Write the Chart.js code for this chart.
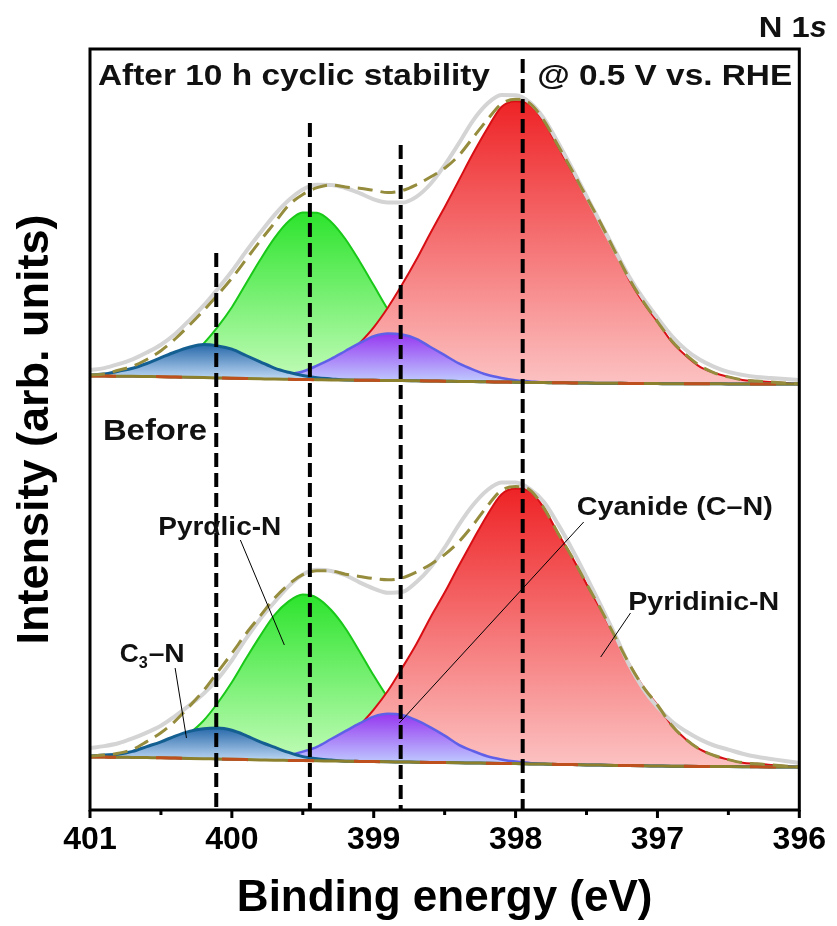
<!DOCTYPE html>
<html>
<head>
<meta charset="utf-8">
<script src="https://cdn.jsdelivr.net/npm/chart.js@4.4.1/dist/chart.umd.min.js"></script>
<style>
  html, body { margin: 0; padding: 0; background: #ffffff; }
  canvas { display: block; }
</style>
</head>
<body>
<canvas id="c" width="837" height="926"></canvas>
<script>
// ---------------- DATA ----------------
const energies = [401.0,400.9,400.8,400.7,400.6,400.5,400.4,400.3,400.2,400.1,400.0,399.9,399.8,399.7,399.6,399.5,399.4,399.3,399.2,399.1,399.0,398.9,398.8,398.7,398.6,398.5,398.4,398.3,398.2,398.1,398.0,397.9,397.8,397.7,397.6,397.5,397.4,397.3,397.2,397.1,397.0,396.9,396.8,396.7,396.6,396.5,396.4,396.3,396.2,396.1,396.0];
const xTickValues = [401, 400, 399, 398, 397, 396];

// "After 10 h cyclic stability" spectrum (upper, offset)
const afterBackground = [434.0,433.9,433.8,433.7,433.5,433.3,433.0,432.7,432.4,432.1,431.8,431.5,431.2,430.9,430.7,430.5,430.3,430.1,430.0,429.8,429.7,429.5,429.4,429.2,429.0,428.8,428.6,428.4,428.2,428.0,427.8,427.6,427.4,427.2,427.1,426.9,426.8,426.7,426.6,426.5,426.4,426.3,426.3,426.2,426.2,426.1,426.1,426.0,426.0,426.0,426.0];
const afterC3N = [1,2,5,8,13,19,25,30,33,32,29,23,17,11,7,4,2,1,0,0,0,0,0,0,0,0,0,0,0,0,0,0,0,0,0,0,0,0,0,0,0,0,0,0,0,0,0,0,0,0,0];
const afterPyrrolic = [0,0,1,2,4,7,13,22,34,51,71,95,119,141,158,167,167,158,141,119,95,71,51,34,22,13,7,4,2,1,0,0,0,0,0,0,0,0,0,0,0,0,0,0,0,0,0,0,0,0,0];
const afterCyanide = [0,0,0,0,0,0,0,0,0,0,0,0,1,2,5,8,14,21,29,37,44,47,46,42,34,26,18,12,7,4,2,1,0,0,0,0,0,0,0,0,0,0,0,0,0,0,0,0,0,0,0];
const afterPyridinic = [0,0,0,0,0,0,0,0,0,0,0,1,1,2,4,6,9,15,23,37,53,73,96,121,148,174,201,228,253,275,281,278,261,236,211,185,159,132,104,81,62,42,28,17,11,7,4,3,2,1,0];
const afterRaw = [6,8,12,17,24,32,43,57,72,89,107,127,146,164,179,190,195,195,192,187,181,178,178,184,197,216,238,261,278,287,287,280,264,240,214,187,160,133,107,85,66,48,34,24,17,12,9,7,6,5,4];
const afterEnvelope = [1,2,6,10,17,26,38,52,67,83,100,119,138,156,174,185,192,195,193,192,190,188,190,196,204,213,226,244,262,278,283,279,262,237,212,186,160,132,105,82,62,43,29,18,11,7,4,3,2,1,0];

// "Before" spectrum (lower)
const beforeBackground = [53.0,52.9,52.8,52.6,52.4,52.2,51.9,51.6,51.3,51.0,50.7,50.4,50.1,49.8,49.6,49.4,49.2,49.0,48.8,48.6,48.4,48.2,48.0,47.8,47.6,47.4,47.2,47.0,46.8,46.6,46.4,46.1,45.9,45.6,45.4,45.1,44.9,44.6,44.4,44.2,44.0,43.8,43.7,43.6,43.5,43.4,43.3,43.2,43.1,43.0,43.0];
const beforeC3N = [1,2,3,6,11,16,22,27,30,31,29,24,18,13,8,4,2,1,0,0,0,0,0,0,0,0,0,0,0,0,0,0,0,0,0,0,0,0,0,0,0,0,0,0,0,0,0,0,0,0,0];
const beforePyrrolic = [0,0,1,2,5,9,15,25,38,56,77,101,124,145,159,166,163,151,133,110,86,64,45,30,18,11,6,3,2,1,0,0,0,0,0,0,0,0,0,0,0,0,0,0,0,0,0,0,0,0,0];
const beforeCyanide = [0,0,0,0,0,0,0,0,0,0,0,0,1,2,5,9,14,22,30,38,45,48,47,42,35,27,18,12,7,4,2,1,0,0,0,0,0,0,0,0,0,0,0,0,0,0,0,0,0,0,0];
const beforePyridinic = [0,0,0,0,0,0,0,0,0,0,0,1,1,2,4,6,9,15,22,36,52,71,94,118,145,170,197,223,248,269,275,273,256,231,207,181,156,129,102,79,61,41,27,17,11,7,4,3,2,1,0];
const beforeRaw = [9,11,14,19,25,32,42,53,65,80,99,121,141,158,174,186,191,190,186,179,173,169,170,180,195,215,238,258,273,281,281,275,262,240,215,188,160,131,101,77,59,45,35,27,21,17,13,10,8,6,4];
const beforeEnvelope = [1,2,4,8,16,25,37,52,68,87,106,126,144,162,176,186,190,190,187,185,183,182,184,190,198,208,221,238,257,273,277,274,256,231,207,181,156,129,102,79,61,41,27,17,11,7,4,3,2,1,0];

// vertical reference lines (peak positions) and their top ends
const markerEnergies = [400.11, 399.45, 398.81, 397.95];
const markerTops = [557, 687, 665, 751];

// callout leader lines: start (near label) and end (on peak)
const calloutFromE = [399.94, 400.40, 397.52, 397.19];
const calloutFromV = [270, 142, 288, 197];
const calloutToE = [399.63, 400.32, 398.82, 397.40];
const calloutToV = [165, 72, 87, 153];

// texts
const panelLabels = ['After 10 h cyclic stability', '@ 0.5 V vs. RHE', 'Before'];
const peakLabels = ['Pyrαlic-N', 'C', '3', '–N', 'Cyanide (C–N)', 'Pyridinic-N'];
const coreLevel = ['N 1', 's'];
const xTitle = 'Binding energy (eV)';
const yTitle = 'Intensity (arb. units)';

// ---------------- BUILD ----------------
const FAMILY = '"Liberation Sans", Arial, Helvetica, sans-serif';
Chart.defaults.font.family = FAMILY;
Chart.defaults.color = '#000';

const pts = (bg, net) => energies.map((e, i) => ({ x: e, y: bg[i] + net[i] }));
const bgPts = (bg) => energies.map((e, i) => ({ x: e, y: bg[i] }));

function grad(topColor, botColor, peakVal, baseVal) {
  return (ctx) => {
    const chart = ctx.chart;
    if (!chart.chartArea) return topColor;
    const y = chart.scales.y;
    const g = chart.ctx.createLinearGradient(0, y.getPixelForValue(peakVal), 0, y.getPixelForValue(baseVal));
    g.addColorStop(0, topColor);
    g.addColorStop(1, botColor);
    return g;
  };
}

const datasets = [];
const base = { pointRadius: 0, cubicInterpolationMode: 'monotone', fill: false };

function addSet(bg, c3n, pyrrolic, cyanide, pyridinic, raw, env) {
  const bgIndex = datasets.length;
  const bgMean = bg.reduce((a, b) => a + b, 0) / bg.length;
  datasets.push({ ...base, label: 'bg', data: bgPts(bg), borderColor: 'rgb(140,128,45)', borderWidth: 3, order: 16 });
  datasets.push({ ...base, label: 'bg2', data: bgPts(bg), borderColor: 'rgb(190,80,30)', borderWidth: 3, borderDash: [26, 40], order: 15 });
  const comp = (label, net, top, bot, line, lw, order) => {
    const d = pts(bg, net);
    const peak = Math.max(...d.map(p => p.y));
    datasets.push({ ...base, label, data: d, fill: bgIndex, borderColor: line, borderWidth: lw,
      backgroundColor: grad(top, bot, peak, bgMean), order });
  };
  comp('Pyrrolic-N', pyrrolic, 'rgb(45,228,45)', 'rgb(195,252,185)', 'rgb(25,200,25)', 2, 20);
  comp('Pyridinic-N', pyridinic, 'rgb(238,35,38)', 'rgb(252,192,192)', 'rgb(215,15,20)', 2, 19);
  comp('Cyanide', cyanide, 'rgb(150,55,240)', 'rgb(190,200,255)', 'rgb(95,95,232)', 2.5, 18);
  comp('C3-N', c3n, 'rgb(40,105,170)', 'rgb(198,222,248)', 'rgb(20,95,145)', 3, 17);
  datasets.push({ ...base, label: 'raw', data: pts(bg, raw), borderColor: 'rgb(212,212,212)', borderWidth: 4, order: 14 });
  datasets.push({ ...base, label: 'envelope', data: pts(bg, env), borderColor: 'rgb(150,140,62)', borderWidth: 3, borderDash: [15, 8], order: 13 });
}
addSet(afterBackground, afterC3N, afterPyrrolic, afterCyanide, afterPyridinic, afterRaw, afterEnvelope);
addSet(beforeBackground, beforeC3N, beforePyrrolic, beforeCyanide, beforePyridinic, beforeRaw, beforeEnvelope);

markerEnergies.forEach((e, i) => {
  datasets.push({ label: 'marker', data: [{ x: e, y: markerTops[i] }, { x: e, y: 0 }], pointRadius: 0,
    borderColor: '#000', borderWidth: 4, borderDash: [14, 6], fill: false, order: 12 });
});
calloutFromE.forEach((e, i) => {
  datasets.push({ label: 'callout', data: [{ x: e, y: calloutFromV[i] }, { x: calloutToE[i], y: calloutToV[i] }], pointRadius: 0,
    borderColor: '#000', borderWidth: 1, fill: false, order: 11 });
});

// text placement (left x in eV, baseline in intensity units)
const textItems = [
  { text: panelLabels[0], e: 400.944, v: 725, size: 30, width: 392 },
  { text: panelLabels[1], e: 397.848, v: 725, size: 29, width: 255 },
  { text: panelLabels[2], e: 400.909, v: 370, size: 30, width: 104 },
  { text: peakLabels[0], e: 400.519, v: 275, size: 25, width: 123 },
  { text: peakLabels[4], e: 397.569, v: 295, size: 25, width: 196 },
  { text: peakLabels[5], e: 397.206, v: 200, size: 25, width: 151 }
];

function drawText(ctx, text, x, y, font, targetW) {
  ctx.font = font;
  const w = ctx.measureText(text).width;
  const sx = targetW ? targetW / w : 1;
  ctx.save();
  ctx.translate(x, y);
  ctx.scale(sx, 1);
  ctx.fillText(text, 0, 0);
  ctx.restore();
  return w * sx;
}

const decor = {
  id: 'decor',
  afterDatasetsDraw(chart) {
    const { ctx, chartArea: a, scales: { x, y } } = chart;
    ctx.save();
    ctx.strokeStyle = '#000';
    ctx.lineWidth = 3;
    ctx.strokeRect(a.left, a.top, a.right - a.left, a.bottom - a.top);
    ctx.beginPath();
    x.ticks.forEach(t => {
      const px = x.getPixelForValue(t.value);
      const len = xTickValues.includes(t.value) ? 8 : 5;
      ctx.moveTo(px, a.bottom);
      ctx.lineTo(px, a.bottom + len);
    });
    ctx.stroke();

    ctx.fillStyle = '#111';
    ctx.textBaseline = 'alphabetic';
    ctx.textAlign = 'left';
    textItems.forEach(it => {
      drawText(ctx, it.text, x.getPixelForValue(it.e), y.getPixelForValue(it.v), 'bold ' + it.size + 'px ' + FAMILY, it.width);
    });
    // C3–N with subscript
    let cx = x.getPixelForValue(400.791);
    const cy = y.getPixelForValue(148);
    cx += drawText(ctx, peakLabels[1], cx, cy, 'bold 25px ' + FAMILY, 19);
    cx += drawText(ctx, peakLabels[2], cx, cy + 6, 'bold 17px ' + FAMILY, 9) + 1;
    drawText(ctx, peakLabels[3], cx, cy, 'bold 25px ' + FAMILY, 36);
    // N 1s
    let nx = x.getPixelForValue(396.286);
    const ny = y.getPixelForValue(773);
    nx += drawText(ctx, coreLevel[0], nx, ny, 'bold 30px ' + FAMILY, 51);
    drawText(ctx, coreLevel[1], nx, ny, 'italic bold 30px ' + FAMILY, 17);
    ctx.restore();
  }
};

new Chart(document.getElementById('c'), {
  type: 'line',
  data: { datasets },
  options: {
    responsive: false,
    animation: false,
    devicePixelRatio: 1,
    layout: { padding: { top: 49, right: 30, bottom: 0, left: 0 } },
    plugins: { legend: { display: false }, tooltip: { enabled: false } },
    scales: {
      x: {
        type: 'linear', min: 396, max: 401, reverse: true,
        grid: { display: false, drawTicks: false },
        border: { display: false },
        ticks: {
          stepSize: 0.5, autoSkip: false, maxRotation: 0, minRotation: 0, padding: 11,
          color: '#000', font: { size: 32, weight: 'bold' },
          callback: (v) => xTickValues.includes(v) ? String(v) : ''
        },
        title: { display: true, text: xTitle, color: '#000', font: { size: 44, weight: 'bold', lineHeight: 1.2 }, padding: { top: 0, bottom: 1 } },
        afterFit: (s) => { s.height = 116; }
      },
      y: {
        type: 'linear', min: 0, max: 761,
        grid: { display: false, drawTicks: false },
        border: { display: false },
        ticks: { display: false },
        title: { display: true, text: yTitle, color: '#000', font: { size: 45, weight: 'bold', lineHeight: 1.2 }, padding: { top: 9, bottom: 0 } },
        afterFit: (s) => { s.width = 90; }
      }
    }
  },
  plugins: [decor]
});
</script>
</body>
</html>
